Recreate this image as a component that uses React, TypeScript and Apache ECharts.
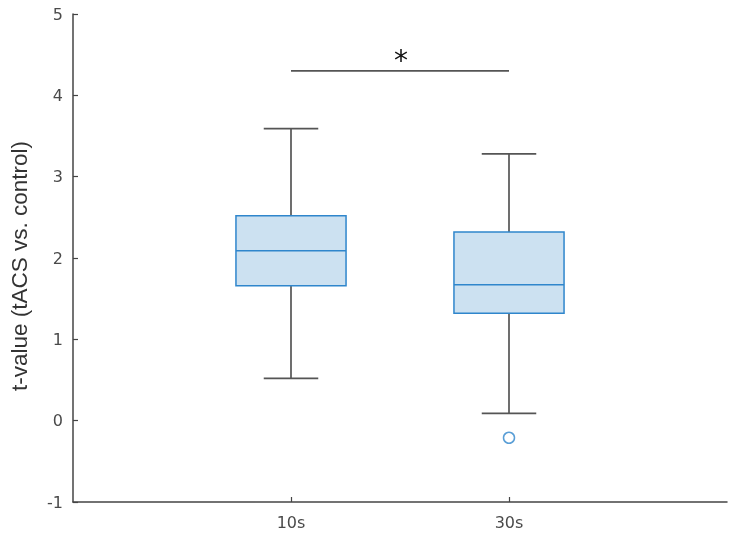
import React, { useEffect, useRef } from "react";
import * as echarts from "echarts";

const categories = ["", "10s", "30s", ""];
// [categoryIndex, min, q1, median, q3, max]
const boxData = [
  [1, 0.52, 1.66, 2.09, 2.52, 3.59],
  [2, 0.09, 1.32, 1.67, 2.32, 3.28],
];
const outliers = [[2, -0.21]];
// [fromIndex, toIndex, yValue, label]
const significance = [[1, 2, 4.3, "*"]];
const yTicks = { min: -1, max: 5, interval: 1 };
const yName = "t-value (tACS vs. control)";

const BLUE = "#2f86cc";
const FILL = "#cce1f1";
const GRAY = "#555555";

export default function App() {
  const ref = useRef<HTMLDivElement>(null);
  useEffect(() => {
    if (!ref.current) return;
    const chart = echarts.init(ref.current, undefined, { renderer: "svg" });
    const tickFn = (i: number) => i === 1 || i === 2;
    chart.setOption({
      animation: false,
      grid: { left: 73, right: 10, top: 14, bottom: 35 },
      xAxis: {
        type: "category",
        data: categories,
        boundaryGap: false,
        axisLine: { onZero: false, lineStyle: { color: "#444", width: 1.5 } },
        axisTick: { inside: true, length: 5, interval: tickFn, lineStyle: { color: "#444", width: 1.2 } },
        axisLabel: { interval: tickFn, color: "#4a4a4a", fontSize: 16, fontFamily: "DejaVu Sans", margin: 12 },
        splitLine: { show: false },
      },
      yAxis: {
        type: "value",
        min: yTicks.min,
        max: yTicks.max,
        interval: yTicks.interval,
        name: yName,
        nameLocation: "middle",
        nameRotate: 90,
        nameGap: 42,
        nameTextStyle: { fontSize: 22.5, fontFamily: "Liberation Sans", color: "#333", padding: [0, 16, 0, 0] },
        axisLine: { show: true, lineStyle: { color: "#444", width: 1.5 } },
        axisTick: { show: true, inside: true, length: 5, lineStyle: { color: "#444", width: 1.2 } },
        axisLabel: { color: "#4a4a4a", fontSize: 16, fontFamily: "DejaVu Sans", margin: 10 },
        splitLine: { show: false },
      },
      series: [
        {
          type: "custom",
          data: boxData,
          renderItem: (params: any, api: any) => {
            const xi = api.value(0);
            const mn = api.coord([xi, api.value(1)]);
            const q1 = api.coord([xi, api.value(2)]);
            const md = api.coord([xi, api.value(3)]);
            const q3 = api.coord([xi, api.value(4)]);
            const mx = api.coord([xi, api.value(5)]);
            const band = api.coord([1, 0])[0] - api.coord([0, 0])[0];
            const bw = band * 0.505;
            const cw = band * 0.25;
            const cx = mn[0];
            const ls = { stroke: GRAY, lineWidth: 1.7 };
            return {
              type: "group",
              children: [
                { type: "line", shape: { x1: cx, y1: mx[1], x2: cx, y2: q3[1] }, style: ls },
                { type: "line", shape: { x1: cx, y1: q1[1], x2: cx, y2: mn[1] }, style: ls },
                { type: "line", shape: { x1: cx - cw / 2, y1: mx[1], x2: cx + cw / 2, y2: mx[1] }, style: ls },
                { type: "line", shape: { x1: cx - cw / 2, y1: mn[1], x2: cx + cw / 2, y2: mn[1] }, style: ls },
                {
                  type: "rect",
                  shape: { x: cx - bw / 2, y: q3[1], width: bw, height: q1[1] - q3[1] },
                  style: { fill: FILL, stroke: BLUE, lineWidth: 1.5 },
                },
                { type: "line", shape: { x1: cx - bw / 2, y1: md[1], x2: cx + bw / 2, y2: md[1] }, style: { stroke: BLUE, lineWidth: 1.5 } },
              ],
            };
          },
          z: 2,
        },
        {
          type: "scatter",
          data: outliers,
          symbol: "circle",
          symbolSize: 11,
          itemStyle: { color: "#ffffff", borderColor: BLUE, borderWidth: 1.5 },
          z: 3,
        },
        {
          type: "custom",
          data: significance,
          renderItem: (params: any, api: any) => {
            const y = api.value(2);
            const a = api.coord([api.value(0), y]);
            const b = api.coord([api.value(1), y]);
            const mid = (a[0] + b[0]) / 2;
            return {
              type: "group",
              children: [
                { type: "line", shape: { x1: a[0], y1: a[1], x2: b[0], y2: b[1] }, style: { stroke: GRAY, lineWidth: 1.7 } },
                {
                  type: "text",
                  x: mid + 1,
                  y: a[1] + 4,
                  style: {
                    text: String(significance[params.dataIndex][3]),
                    fontSize: 28,
                    fontFamily: "DejaVu Sans",
                    fill: "#111",
                    align: "center",
                    verticalAlign: "bottom",
                  },
                },
              ],
            };
          },
          z: 3,
        },
      ],
    });
    return () => chart.dispose();
  }, []);
  return <div ref={ref} style={{ position: "fixed", left: 0, top: 0, width: 737, height: 537 }} />;
}
